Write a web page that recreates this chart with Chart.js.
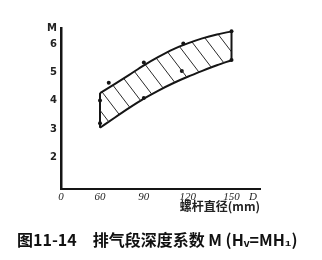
<!DOCTYPE html>
<html>
<head>
<meta charset="utf-8">
<script src="https://cdn.jsdelivr.net/npm/chart.js@4/dist/chart.umd.min.js"></script>
<style>
html,body{margin:0;padding:0;background:#fff;}
canvas{display:block;}
</style>
</head>
<body>
<canvas id="c" width="322" height="260"></canvas>
<script>
// ---- data ----
const diameters = [60, 70, 80, 90, 100, 110, 120, 130, 140, 150];
const upperM = [4.28, 4.6, 4.93, 5.27, 5.57, 5.84, 6.05, 6.23, 6.37, 6.48];
const lowerM = [3.04, 3.4, 3.75, 4.08, 4.37, 4.63, 4.86, 5.07, 5.27, 5.45];
const dotD = [60, 60, 66, 90, 90, 117, 116, 150, 150];
const dotM = [4.01, 3.2, 4.65, 5.37, 4.1, 6.05, 5.07, 6.48, 5.46];
const xTickValues = [60, 90, 120, 150];
const xTickLabels = ['60', '90', '120', '150'];
const xOriginLabel = '0';
const xEndLabel = 'D';
const yTickValues = [2, 3, 4, 5, 6];
const yTickLabels = ['2', '3', '4', '5', '6'];
const yEndLabel = 'M';
const xAxisTitle = '螺杆直径(mm)';
const caption = '图11-14\u3000排气段深度系数 M (Hᵥ=MH₁)';

// scale ranges
const xMin = 33.3, xMax = 169.5, xEndTick = 164.7;
const yMin = 0.857, yMax = 6.6;

const ink = '#151515';

// hatch pattern
function makeHatch() {
  const w = 16, h = 21;
  const c = document.createElement('canvas');
  c.width = w; c.height = h;
  const g = c.getContext('2d');
  g.strokeStyle = '#2a2a2a';
  g.lineWidth = 1;
  for (const s of [-w, 0, w]) {
    g.beginPath();
    g.moveTo(s - w, -h);
    g.lineTo(s + 2 * w, 2 * h);
    g.stroke();
  }
  return g.createPattern(c, 'repeat');
}

const pts = (xs, ys) => xs.map((x, i) => ({x: x, y: ys[i]}));
const last = diameters.length - 1;

const xTicksAll = [xMin, ...xTickValues, xEndTick];
const xLabelsAll = [xOriginLabel, ...xTickLabels, xEndLabel];
const yTicksAll = [...yTickValues, yMax];
const yLabelsAll = [...yTickLabels, yEndLabel];

new Chart(document.getElementById('c'), {
  type: 'line',
  data: {
    datasets: [
      {
        data: pts(diameters, upperM),
        borderColor: ink, borderWidth: 2, pointRadius: 0,
        cubicInterpolationMode: 'monotone',
        fill: '+1', backgroundColor: makeHatch()
      },
      {
        data: pts(diameters, lowerM),
        borderColor: ink, borderWidth: 2, pointRadius: 0,
        cubicInterpolationMode: 'monotone', fill: false
      },
      {
        data: [{x: diameters[0], y: lowerM[0]}, {x: diameters[0], y: upperM[0]}],
        borderColor: ink, borderWidth: 2, pointRadius: 0, fill: false
      },
      {
        data: [{x: diameters[last], y: lowerM[last]}, {x: diameters[last], y: upperM[last]}],
        borderColor: ink, borderWidth: 2, pointRadius: 0, fill: false
      },
      {
        data: pts(dotD, dotM),
        showLine: false, pointRadius: 2, pointBorderWidth: 0,
        pointBackgroundColor: ink, borderColor: ink, fill: false
      }
    ]
  },
  options: {
    responsive: false,
    animation: false,
    layout: {padding: {left: 17, top: 28, right: 0, bottom: 0}},
    plugins: {
      legend: {display: false},
      tooltip: {enabled: false},
      title: {
        display: true, position: 'bottom', align: 'start',
        text: caption, color: '#111',
        font: {family: "'Noto Sans CJK SC', sans-serif", size: 16, weight: 'bold', lineHeight: 1.2},
        padding: {top: 0, bottom: 10}
      }
    },
    scales: {
      x: {
        type: 'linear', min: xMin, max: xMax,
        grid: {display: false, drawTicks: false},
        border: {display: true, color: ink, width: 2},
        afterBuildTicks: (s) => { s.ticks = xTicksAll.map(v => ({value: v})); },
        afterFit: (s) => { s.height = 41.8; },
        ticks: {
          autoSkip: false, maxRotation: 0, padding: 2, color: '#222',
          font: {family: "'Liberation Serif', serif", size: 11, style: 'italic'},
          callback: (v, i) => xLabelsAll[i]
        },
        title: {
          display: true, text: xAxisTitle, align: 'end', color: '#222',
          font: {family: "'Noto Sans CJK SC', sans-serif", size: 12, weight: 'bold', lineHeight: 1.2},
          padding: {top: 0, bottom: 17.6}
        }
      },
      y: {
        type: 'linear', position: 'left', min: yMin, max: yMax,
        grid: {display: false, drawTicks: false},
        border: {display: true, color: ink, width: 2.5},
        afterBuildTicks: (s) => { s.ticks = yTicksAll.map(v => ({value: v})); },
        afterFit: (s) => { s.width = 44; },
        ticks: {
          autoSkip: false, padding: 4, color: '#222',
          font: {family: "'DejaVu Sans', sans-serif", size: 10, weight: 'bold'},
          callback: (v, i) => yLabelsAll[i]
        }
      },
      yR: {
        type: 'linear', position: 'right', min: yMin, max: yMax,
        grid: {display: false, drawTicks: false},
        border: {display: false},
        ticks: {display: false},
        afterFit: (s) => { s.width = 62; }
      }
    }
  }
});
</script>
</body>
</html>
